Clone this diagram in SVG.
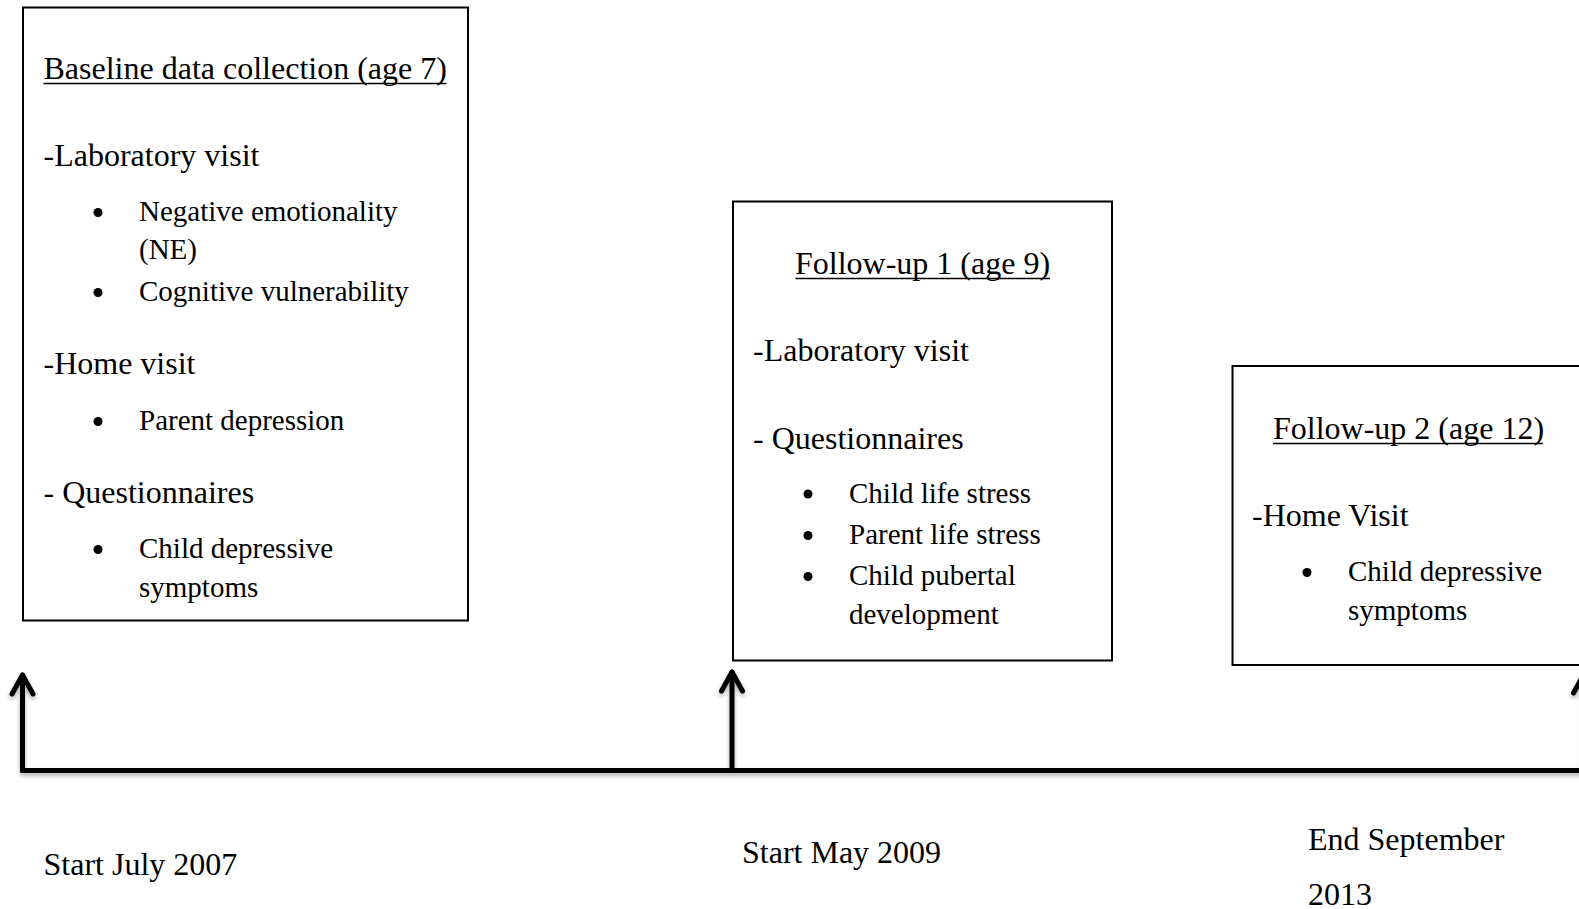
<svg xmlns="http://www.w3.org/2000/svg" width="1579" height="909" viewBox="0 0 1579 909">
<style>
text{font-family:"Liberation Serif","Times New Roman",serif;fill:#000}
.h{font-size:32px}
.l1{font-size:32px}
.it{font-size:29px}
.ul{stroke:#000;stroke-width:1.6}
.box{fill:#fff;stroke:#000;stroke-width:2}
.ax{fill:none;stroke:#000;stroke-width:5;stroke-linecap:round;stroke-linejoin:round}
</style>
<defs>
<filter id="sh" x="-10%" y="-10%" width="120%" height="140%">
<feDropShadow dx="0" dy="3" stdDeviation="2" flood-color="#000" flood-opacity="0.3"/>
</filter>
</defs>
<rect width="1579" height="909" fill="#fff"/>
<g id="connectors" filter="url(#sh)">
<path class="ax" d="M22.5 770.5 H1590"/>
<path class="ax" d="M22.5 770.5 V675"/>
<path class="ax" d="M12 694 L22.5 675 L33 694"/>
<path class="ax" d="M732 770.5 V672"/>
<path class="ax" d="M721.5 691 L732 672 L742.5 691"/>
<path class="ax" d="M1584 770.5 V674"/>
<path class="ax" d="M1573.5 693 L1584 674 L1594.5 693"/>
</g>
<g id="baseline">
<rect class="box" x="23" y="7.5" width="445" height="613"/>
<text class="h" x="43.5" y="79">Baseline data collection (age 7)</text>
<line class="ul" x1="43.5" y1="83.5" x2="446.5" y2="83.5"/>
<text class="l1" x="43.5" y="166">-Laboratory visit</text>
<circle cx="98" cy="212.5" r="4.5"/>
<text class="it" x="139" y="221">Negative emotionality</text>
<text class="it" x="139" y="259">(NE)</text>
<circle cx="98" cy="292.5" r="4.5"/>
<text class="it" x="139" y="301">Cognitive vulnerability</text>
<text class="l1" x="43.5" y="373.5">-Home visit</text>
<circle cx="98" cy="421.5" r="4.5"/>
<text class="it" x="139" y="430">Parent depression</text>
<text class="l1" x="43.5" y="502.5">- Questionnaires</text>
<circle cx="98" cy="549.5" r="4.5"/>
<text class="it" x="139" y="558">Child depressive</text>
<text class="it" x="139" y="597">symptoms</text>
</g>
<g id="followup1">
<rect class="box" x="733" y="201.5" width="379" height="459"/>
<text class="h" x="922.5" y="274" text-anchor="middle">Follow-up 1 (age 9)</text>
<line class="ul" x1="795.5" y1="278.5" x2="1050" y2="278.5"/>
<text class="l1" x="753" y="360.5">-Laboratory visit</text>
<text class="l1" x="753" y="449">- Questionnaires</text>
<circle cx="808" cy="494" r="4.5"/>
<text class="it" x="849" y="502.5">Child life stress</text>
<circle cx="808" cy="535.5" r="4.5"/>
<text class="it" x="849" y="544">Parent life stress</text>
<circle cx="808" cy="576.5" r="4.5"/>
<text class="it" x="849" y="585">Child pubertal</text>
<text class="it" x="849" y="624">development</text>
</g>
<g id="followup2">
<rect class="box" x="1232.5" y="366" width="400" height="299"/>
<text class="h" x="1273" y="439">Follow-up 2 (age 12)</text>
<line class="ul" x1="1273" y1="443.5" x2="1543" y2="443.5"/>
<text class="l1" x="1252" y="525.5">-Home Visit</text>
<circle cx="1307" cy="572.5" r="4.5"/>
<text class="it" x="1348" y="581">Child depressive</text>
<text class="it" x="1348" y="620">symptoms</text>
</g>
<g id="labels">
<text class="l1" x="43.5" y="875">Start July 2007</text>
<text class="l1" x="742" y="863">Start May 2009</text>
<text class="l1" x="1308" y="850">End September</text>
<text class="l1" x="1308" y="905">2013</text>
</g>
</svg>
